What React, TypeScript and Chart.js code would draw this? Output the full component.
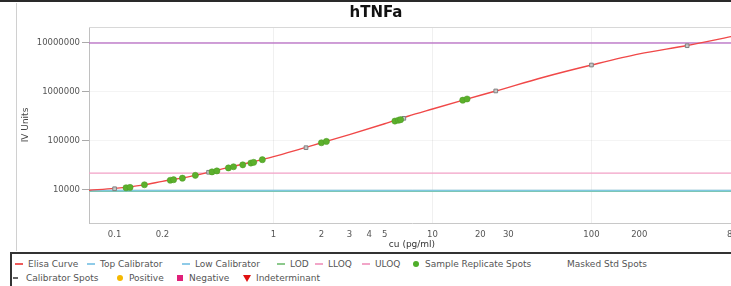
import React, { useEffect, useRef } from "react";
import { Chart, registerables } from "chart.js";
Chart.register(...registerables);

// ---- axis ranges ----
const X_MIN = 0.069;
const X_MAX = 800;
const Y_MIN = 2120;
const Y_MAX = 21200000;

// ---- tick labels ----
const xTicks = [0.1, 0.2, 1, 2, 3, 4, 5, 10, 20, 30, 100, 200, 800];
const yTicks = [10000, 100000, 1000000, 10000000];
const xGridAt = [1, 10, 100];

// ---- Elisa curve ----
const curveX = [0.069, 0.1, 0.15, 0.2, 0.3, 0.5, 0.7, 1, 1.5, 2, 3, 5, 7, 10, 16, 25, 50, 100, 200, 400, 800];
const curveY = [9900, 10800, 12600, 15000, 19000, 28000, 36000, 48000, 70000, 92000, 135000, 225000, 320000, 450000, 700000, 1050000, 2000000, 3550000, 6000000, 8900000, 14000000];

// ---- Sample replicate spots ----
const sampleX = [0.118, 0.125, 0.154, 0.224, 0.235, 0.267, 0.322, 0.41, 0.44, 0.52, 0.56, 0.64, 0.72, 0.75, 0.85, 2.0, 2.15, 5.8, 6.1, 6.3, 15.5, 16.5];
const sampleY = [11100, 11300, 12800, 15800, 16200, 17400, 19900, 23400, 24500, 28200, 29800, 32600, 35500, 36700, 41500, 92000, 98000, 255000, 265000, 272000, 680000, 720000];

// ---- Calibrator spots ----
const calX = [0.1, 0.39, 1.6, 6.6, 25, 100, 400];
const calY = [10600, 23000, 73000, 290000, 1050000, 3550000, 8800000];

// ---- horizontal reference lines ----
const ULOQ = 10000000;
const TOP_CAL = 10000000;
const LLOQ = 22000;
const LOW_CAL = 9700;
const LOD = 9400;

const FONT = "'DejaVu Sans', Verdana, sans-serif";

const pts = (xs: number[], ys: number[]) => xs.map((x, i) => ({ x, y: ys[i] }));
const hline = (v: number) => [{ x: X_MIN, y: v }, { x: X_MAX, y: v }];

type LegendItem = { label: string; color: string; kind: string; left: number; row: number };
const legendItems: LegendItem[] = [
  { label: "Elisa Curve", color: "#ee5a5a", kind: "line", left: 15, row: 0 },
  { label: "Top Calibrator", color: "#8fcbe8", kind: "line", left: 87, row: 0 },
  { label: "Low Calibrator", color: "#8fcbe8", kind: "line", left: 182, row: 0 },
  { label: "LOD", color: "#8cc98c", kind: "line", left: 277, row: 0 },
  { label: "LLOQ", color: "#f2a6c8", kind: "line", left: 315, row: 0 },
  { label: "ULOQ", color: "#f2a6c8", kind: "line", left: 362, row: 0 },
  { label: "Sample Replicate Spots", color: "#4fae2a", kind: "dot", left: 412, row: 0 },
  { label: "Masked Std Spots", color: "transparent", kind: "none", left: 555, row: 0 },
  { label: "Calibrator Spots", color: "#666", kind: "dash", left: 13, row: 1 },
  { label: "Positive", color: "#f5b800", kind: "dot", left: 116, row: 1 },
  { label: "Negative", color: "#e0207a", kind: "square", left: 176, row: 1 },
  { label: "Indeterminant", color: "#e01010", kind: "tri", left: 243, row: 1 },
];

const frame = {
  id: "frame",
  beforeDatasetsDraw(chart: any) {
    const { ctx, chartArea } = chart;
    ctx.save();
    ctx.strokeStyle = "#d8d8d8";
    ctx.lineWidth = 1;
    ctx.beginPath();
    ctx.moveTo(chartArea.left, chartArea.top + 0.5);
    ctx.lineTo(chartArea.right, chartArea.top + 0.5);
    ctx.stroke();
    ctx.restore();
  },
};

export default function App() {
  const ref = useRef<HTMLCanvasElement>(null);
  useEffect(() => {
    const c = ref.current;
    if (!c) return;
    const lineDs = (label: string, data: any[], color: string, width = 1.3) => ({
      label,
      data,
      showLine: true,
      borderColor: color,
      backgroundColor: color,
      borderWidth: width,
      pointRadius: 0,
      tension: 0,
    });
    const chart = new Chart(c, {
      type: "scatter",
      data: {
        datasets: [
          {
            label: "Sample Replicate Spots",
            data: pts(sampleX, sampleY),
            pointStyle: "circle",
            pointRadius: 3.1,
            backgroundColor: "#5cb02c",
            borderColor: "#4a9a22",
            borderWidth: 0.5,
          } as any,
          {
            label: "Calibrator Spots",
            data: pts(calX, calY),
            pointStyle: "rect",
            pointRadius: 2.6,
            backgroundColor: "#c8c8c8",
            borderColor: "#808080",
            borderWidth: 1,
          },
          { ...lineDs("Elisa Curve", pts(curveX, curveY), "#f04848", 1.4), cubicInterpolationMode: "monotone" },
          lineDs("ULOQ", hline(ULOQ), "rgba(215,95,185,0.75)", 1.2),
          lineDs("Top Calibrator", hline(TOP_CAL), "#9a8fd8", 1.2),
          lineDs("LLOQ", hline(LLOQ), "#f2a0c6", 1.2),
          lineDs("Low Calibrator", hline(LOW_CAL), "#7fc8e0", 1.6),
          lineDs("LOD", hline(LOD), "#7cc48a", 1.6),
        ],
      },
      options: {
        responsive: false,
        animation: false,
        layout: { padding: { left: 0, right: 17, top: 27, bottom: 0 } },
        plugins: {
          legend: { display: false },
          tooltip: { enabled: false },
          title: { display: false },
        },
        scales: {
          x: {
            type: "logarithmic",
            min: X_MIN,
            max: X_MAX,
            afterBuildTicks: (s: any) => {
              s.ticks = xTicks.map((v) => ({ value: v }));
            },
            afterFit: (s: any) => {
              s.height = 29;
            },
            ticks: {
              autoSkip: false,
              maxRotation: 0,
              color: "#555",
              font: { family: FONT, size: 8.5 },
              padding: 3,
              callback: (v: any) => String(v),
            },
            grid: {
              color: (ctx: any) => (ctx.tick && xGridAt.includes(ctx.tick.value) ? "rgba(0,0,0,0.06)" : "transparent"),
              tickLength: 4,
              tickColor: "transparent",
            },
            border: { display: true, color: "#c8c8c8" },
            title: {
              display: true,
              text: "cu (pg/ml)",
              color: "#333",
              font: { family: FONT, size: 9 },
              padding: { top: 0, bottom: 2 },
            },
          },
          y: {
            type: "logarithmic",
            min: Y_MIN,
            max: Y_MAX,
            afterBuildTicks: (s: any) => {
              s.ticks = yTicks.map((v) => ({ value: v }));
            },
            afterFit: (s: any) => {
              s.width = 89;
            },
            ticks: {
              color: "#555",
              font: { family: FONT, size: 8.5 },
              padding: 2,
              callback: (v: any) => String(v),
            },
            grid: {
              color: "rgba(0,0,0,0.045)",
              tickLength: 7,
              tickColor: "#aaa",
            },
            border: { display: true, color: "#c0c0c0" },
            title: {
              display: true,
              text: "IV Units",
              color: "#444",
              font: { family: FONT, size: 9 },
              padding: { top: 20, bottom: 0 },
            },
          },
        },
      },
      plugins: [frame],
    } as any);
    return () => chart.destroy();
  }, []);

  const marker = (it: LegendItem) => {
    const base: React.CSSProperties = { position: "absolute", top: "50%" };
    if (it.kind === "line")
      return <span style={{ ...base, left: 0, width: 8, height: 2, marginTop: -1, background: it.color }} />;
    if (it.kind === "dash")
      return <span style={{ ...base, left: 0, width: 5, height: 2, marginTop: -1, background: it.color }} />;
    if (it.kind === "dot")
      return <span style={{ ...base, left: 1, width: 6, height: 6, marginTop: -3, borderRadius: 3, background: it.color }} />;
    if (it.kind === "square")
      return <span style={{ ...base, left: 1, width: 6, height: 6, marginTop: -3, background: it.color }} />;
    if (it.kind === "tri")
      return (
        <span
          style={{
            ...base,
            left: 0,
            width: 0,
            height: 0,
            marginTop: -3,
            borderLeft: "4px solid transparent",
            borderRight: "4px solid transparent",
            borderTop: "7px solid " + it.color,
          }}
        />
      );
    return null;
  };

  return (
    <div
      style={{
        position: "fixed",
        left: 0,
        top: 0,
        width: 731,
        height: 286,
        overflow: "hidden",
        background: "#fff",
        fontFamily: FONT,
      }}
    >
      <div style={{ position: "absolute", left: 0, top: 0, width: 731, height: 2, background: "#2a2a2a" }} />
      <div style={{ position: "absolute", left: 16, top: 3, width: 1, height: 248, background: "#d0d0d0" }} />
      <canvas ref={ref} width={752} height={252} style={{ position: "absolute", left: 0, top: 0, width: 752, height: 252 }} />
      <div
        style={{
          position: "absolute",
          left: 276,
          top: 3,
          width: 200,
          textAlign: "center",
          fontSize: 15,
          fontWeight: "bold",
          lineHeight: "18px",
          color: "#111",
        }}
      >
        hTNFa
      </div>
      <div
        style={{
          position: "absolute",
          left: 10,
          top: 252,
          width: 740,
          height: 60,
          borderTop: "2px solid #333",
          borderLeft: "2px solid #333",
        }}
      />
      {legendItems.map((it, i) => (
        <div
          key={i}
          style={{
            position: "absolute",
            left: it.left,
            top: it.row === 0 ? 258 : 272,
            height: 12,
            lineHeight: "12px",
            fontSize: 9,
            color: "#555",
            whiteSpace: "nowrap",
            paddingLeft: it.kind === "none" ? 12 : 13,
          }}
        >
          {marker(it)}
          {it.label}
        </div>
      ))}
    </div>
  );
}
